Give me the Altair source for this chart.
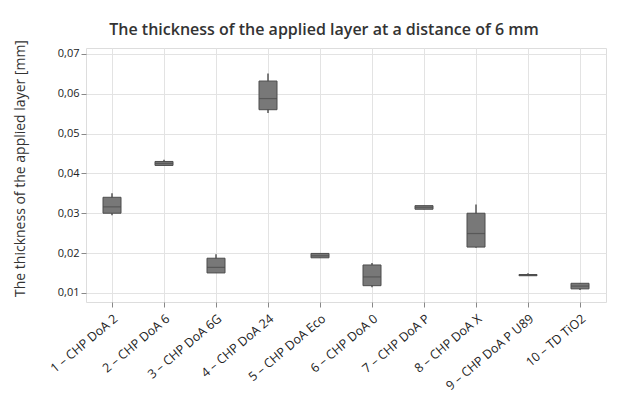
import altair as alt
import pandas as pd

categories = ["1 – CHP DoA 2", "2 – CHP DoA 6", "3 – CHP DoA 6G", "4 – CHP DoA 24",
              "5 – CHP DoA Eco", "6 – CHP DoA 0", "7 – CHP DoA P", "8 – CHP DoA X",
              "9 – CHP DoA P U89", "10 – TD TiO2"]
whisker_low = [0.0295, 0.0420, 0.0150, 0.0552, 0.0188, 0.0114, 0.0310, 0.0213, 0.0143, 0.0107]
q1 =          [0.0300, 0.0420, 0.0150, 0.0560, 0.0188, 0.0118, 0.0310, 0.0215, 0.0143, 0.0110]
median =      [0.0316, 0.0425, 0.0164, 0.0588, 0.0193, 0.0140, 0.0315, 0.0249, 0.0144, 0.0117]
q3 =          [0.0340, 0.0430, 0.0187, 0.0632, 0.0199, 0.0170, 0.0319, 0.0300, 0.0146, 0.0124]
whisker_high = [0.0350, 0.0434, 0.0197, 0.0651, 0.0199, 0.0175, 0.0319, 0.0322, 0.0149, 0.0124]

df = pd.DataFrame({"cat": categories, "lo": whisker_low, "q1": q1, "med": median,
                   "q3": q3, "hi": whisker_high})

FONT = "Open Sans"
yscale = alt.Scale(domain=[0.0077, 0.0715], nice=False, zero=False)
xenc = alt.X("cat:N", sort=categories, scale=alt.Scale(paddingInner=0, paddingOuter=0),
             axis=alt.Axis(title=None, labelAngle=-40, labelFontSize=12.5, labelColor="#222",
                           labelFont=FONT, bandPosition=0.5, gridColor="#e3e3e3", grid=True,
                           tickColor="#888", domain=False, labelPadding=5, labelOverlap=False))
yaxis = alt.Axis(title="The thickness of the applied layer [mm]", titleFontSize=14,
                 titleFontWeight="normal", titleColor="#333", titleFont=FONT,
                 values=[0.01, 0.02, 0.03, 0.04, 0.05, 0.06, 0.07],
                 labelExpr="replace(format(datum.value, '.2f'), '.', ',')",
                 labelFontSize=11, labelColor="#222", labelFont=FONT,
                 gridColor="#e3e3e3", tickColor="#888", domain=False, titlePadding=30,
                 titleY=120)

base = alt.Chart(df)
whisk = base.mark_rule(color="#555", strokeWidth=1.5).encode(
    x=xenc, y=alt.Y("lo:Q", scale=yscale, axis=yaxis), y2="hi:Q")
box = base.mark_bar(size=18, fill="#787878", stroke="#4d4d4d", strokeWidth=1).encode(
    x=alt.X("cat:N", sort=categories), y=alt.Y("q1:Q", scale=yscale), y2="q3:Q")
med = base.mark_tick(size=18, color="#4a4a4a", thickness=1.2).encode(
    x=alt.X("cat:N", sort=categories), y=alt.Y("med:Q", scale=yscale))

chart = alt.layer(whisk, box, med).properties(
    width=520, height=254,
    title=alt.Title("The thickness of the applied layer at a distance of 6 mm",
                    fontSize=16, fontWeight=600, color="#333", font=FONT, offset=2,
                    anchor="middle", dx=-22),
    padding={"left": 5, "top": 13, "right": 10, "bottom": 10},
).configure_view(stroke="#7a7a7a", strokeWidth=1).configure(background="white")

chart.save("out.html", embed_options={"renderer": "svg", "actions": False})
